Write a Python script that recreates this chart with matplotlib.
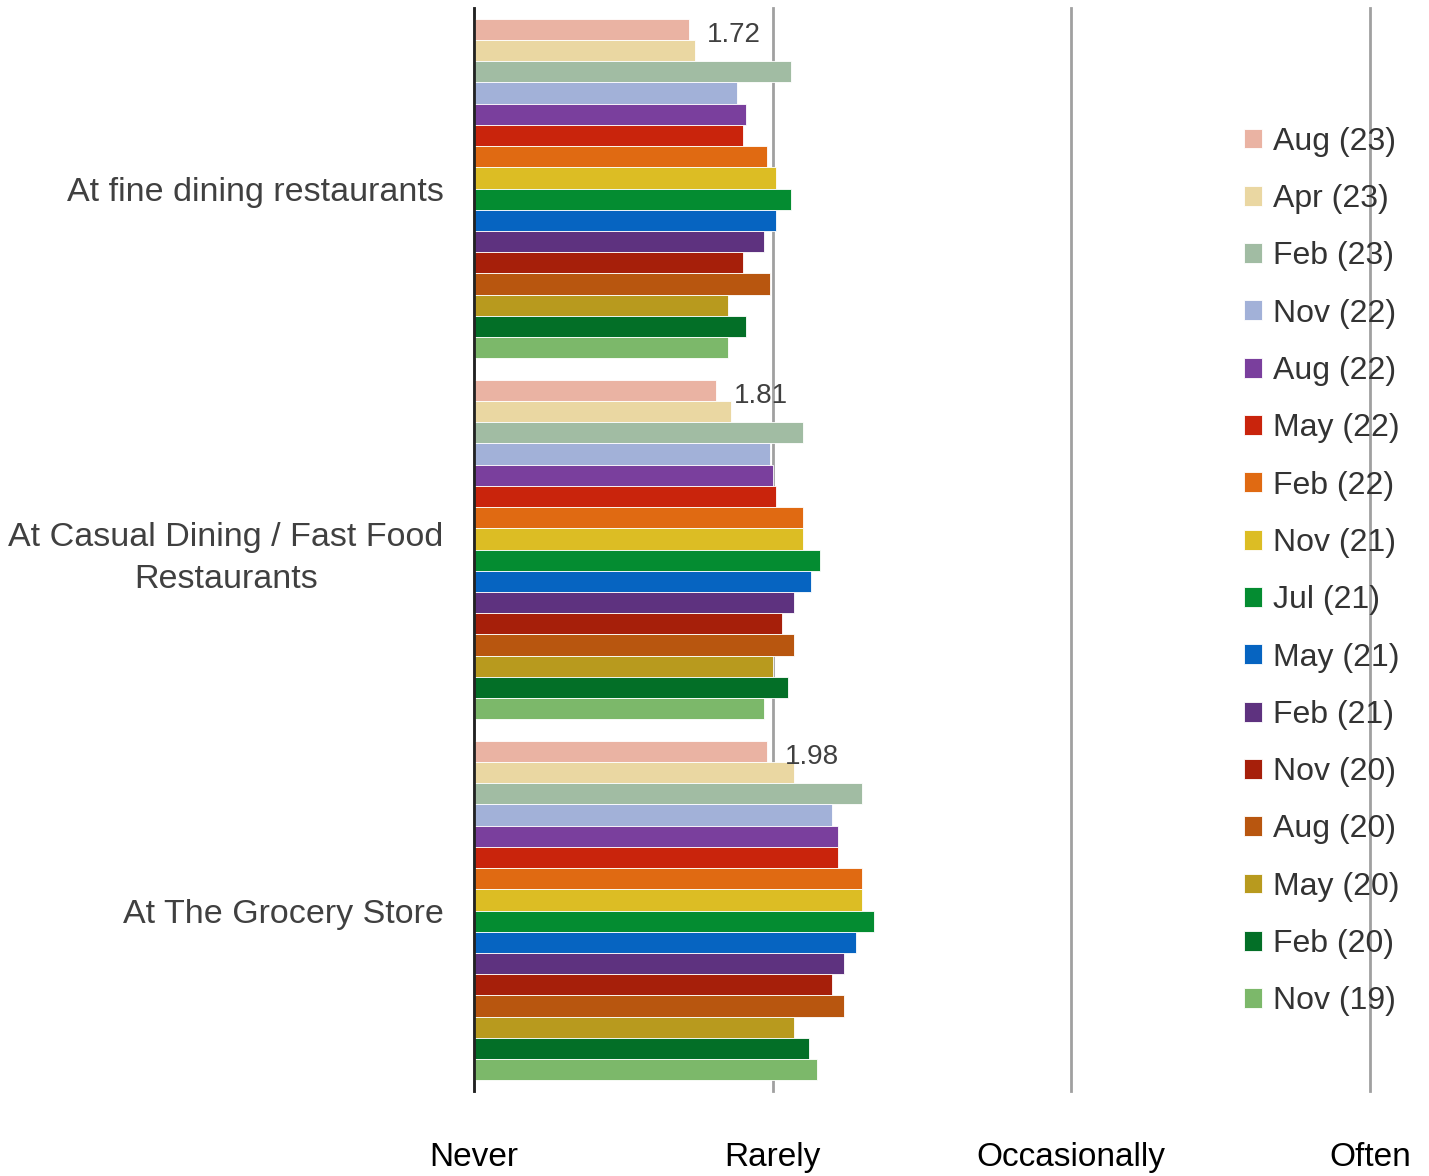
import matplotlib
matplotlib.use('Agg')
import matplotlib.pyplot as plt
import numpy as np

plt.rcParams['font.family'] = ['Liberation Sans', 'DejaVu Sans']

# Categories and survey waves (top bar of each group is the newest)
categories = ['At fine dining restaurants',
              'At Casual Dining / Fast Food\nRestaurants',
              'At The Grocery Store']
waves = ['Aug (23)', 'Apr (23)', 'Feb (23)', 'Nov (22)', 'Aug (22)', 'May (22)',
         'Feb (22)', 'Nov (21)', 'Jul (21)', 'May (21)', 'Feb (21)', 'Nov (20)',
         'Aug (20)', 'May (20)', 'Feb (20)', 'Nov (19)']
colors = ['#EAB3A3', '#EAD7A2', '#A1BCA3', '#A2B1D8', '#7A3F9D', '#C9240C',
          '#E06A12', '#DCBD24', '#048C31', '#0664C1', '#5E327F', '#A61F0A',
          '#B8560F', '#B89A1E', '#036F27', '#7CB86A']

fine_dining = [1.72, 1.74, 2.06, 1.88, 1.91, 1.90, 1.98, 2.01, 2.06, 2.01,
               1.97, 1.90, 1.99, 1.85, 1.91, 1.85]
casual_dining = [1.81, 1.86, 2.10, 1.99, 2.00, 2.01, 2.10, 2.10, 2.16, 2.13,
                 2.07, 2.03, 2.07, 2.00, 2.05, 1.97]
grocery = [1.98, 2.07, 2.30, 2.20, 2.22, 2.22, 2.30, 2.30, 2.34, 2.28,
           2.24, 2.20, 2.24, 2.07, 2.12, 2.15]

scale_labels = ['Never', 'Rarely', 'Occasionally', 'Often']
scale_values = [1, 2, 3, 4]

values = np.array([fine_dining, casual_dining, grocery])  # shape (3, 16)

fig = plt.figure(figsize=(14.29, 11.76), dpi=100)
ax = fig.add_axes([474 / 1429, (1176 - 1091) / 1176, (1370 - 474) / 1429, (1091 - 8) / 1176])

n = len(waves)
h = 1.0 / 17
y = np.arange(len(categories))

for i in range(n):
    ax.barh(y + (i - (n - 1) / 2) * h, values[:, i] - 1, left=1, height=h,
            color=colors[i], edgecolor='white', linewidth=0.6, label=waves[i], zorder=3)

# label the newest wave in each group
for j in range(len(categories)):
    v = values[j, 0]
    ax.annotate('%.2f' % v, xy=(v, y[j] + (0 - (n - 1) / 2) * h), xytext=(13, -4),
                textcoords='offset points', ha='left', va='center',
                fontsize=20, color='#404040')

ax.set_xlim(1, 4)
ax.set_ylim(len(categories) - 0.5, -0.5)

ax.set_xticks(scale_values)
ax.set_xticklabels(scale_labels, fontsize=24, color='black')
ax.tick_params(axis='x', length=0, pad=37)
ax.set_yticks(y)
ax.set_yticklabels(categories, fontsize=24.5, color='#404040',
                   multialignment='center', linespacing=1.45)
ax.tick_params(axis='y', length=0, pad=22)

ax.grid(axis='x', color='#A0A0A0', linewidth=2, zorder=0)
for gl in ax.xaxis.get_gridlines():
    gl.set_clip_on(False)
for s in ['top', 'right', 'bottom']:
    ax.spines[s].set_visible(False)
ax.spines['left'].set_color('#222222')
ax.spines['left'].set_linewidth(2)
ax.spines['left'].set_zorder(5)

leg = fig.legend(loc='upper left', bbox_to_anchor=(1215 / 1429, 1 - 98 / 1176),
                 frameon=False, fontsize=23, handlelength=0.58, handleheight=0.58,
                 handletextpad=0.35, labelspacing=0.855, labelcolor='#333333')

fig.savefig('out.png', dpi=100)
